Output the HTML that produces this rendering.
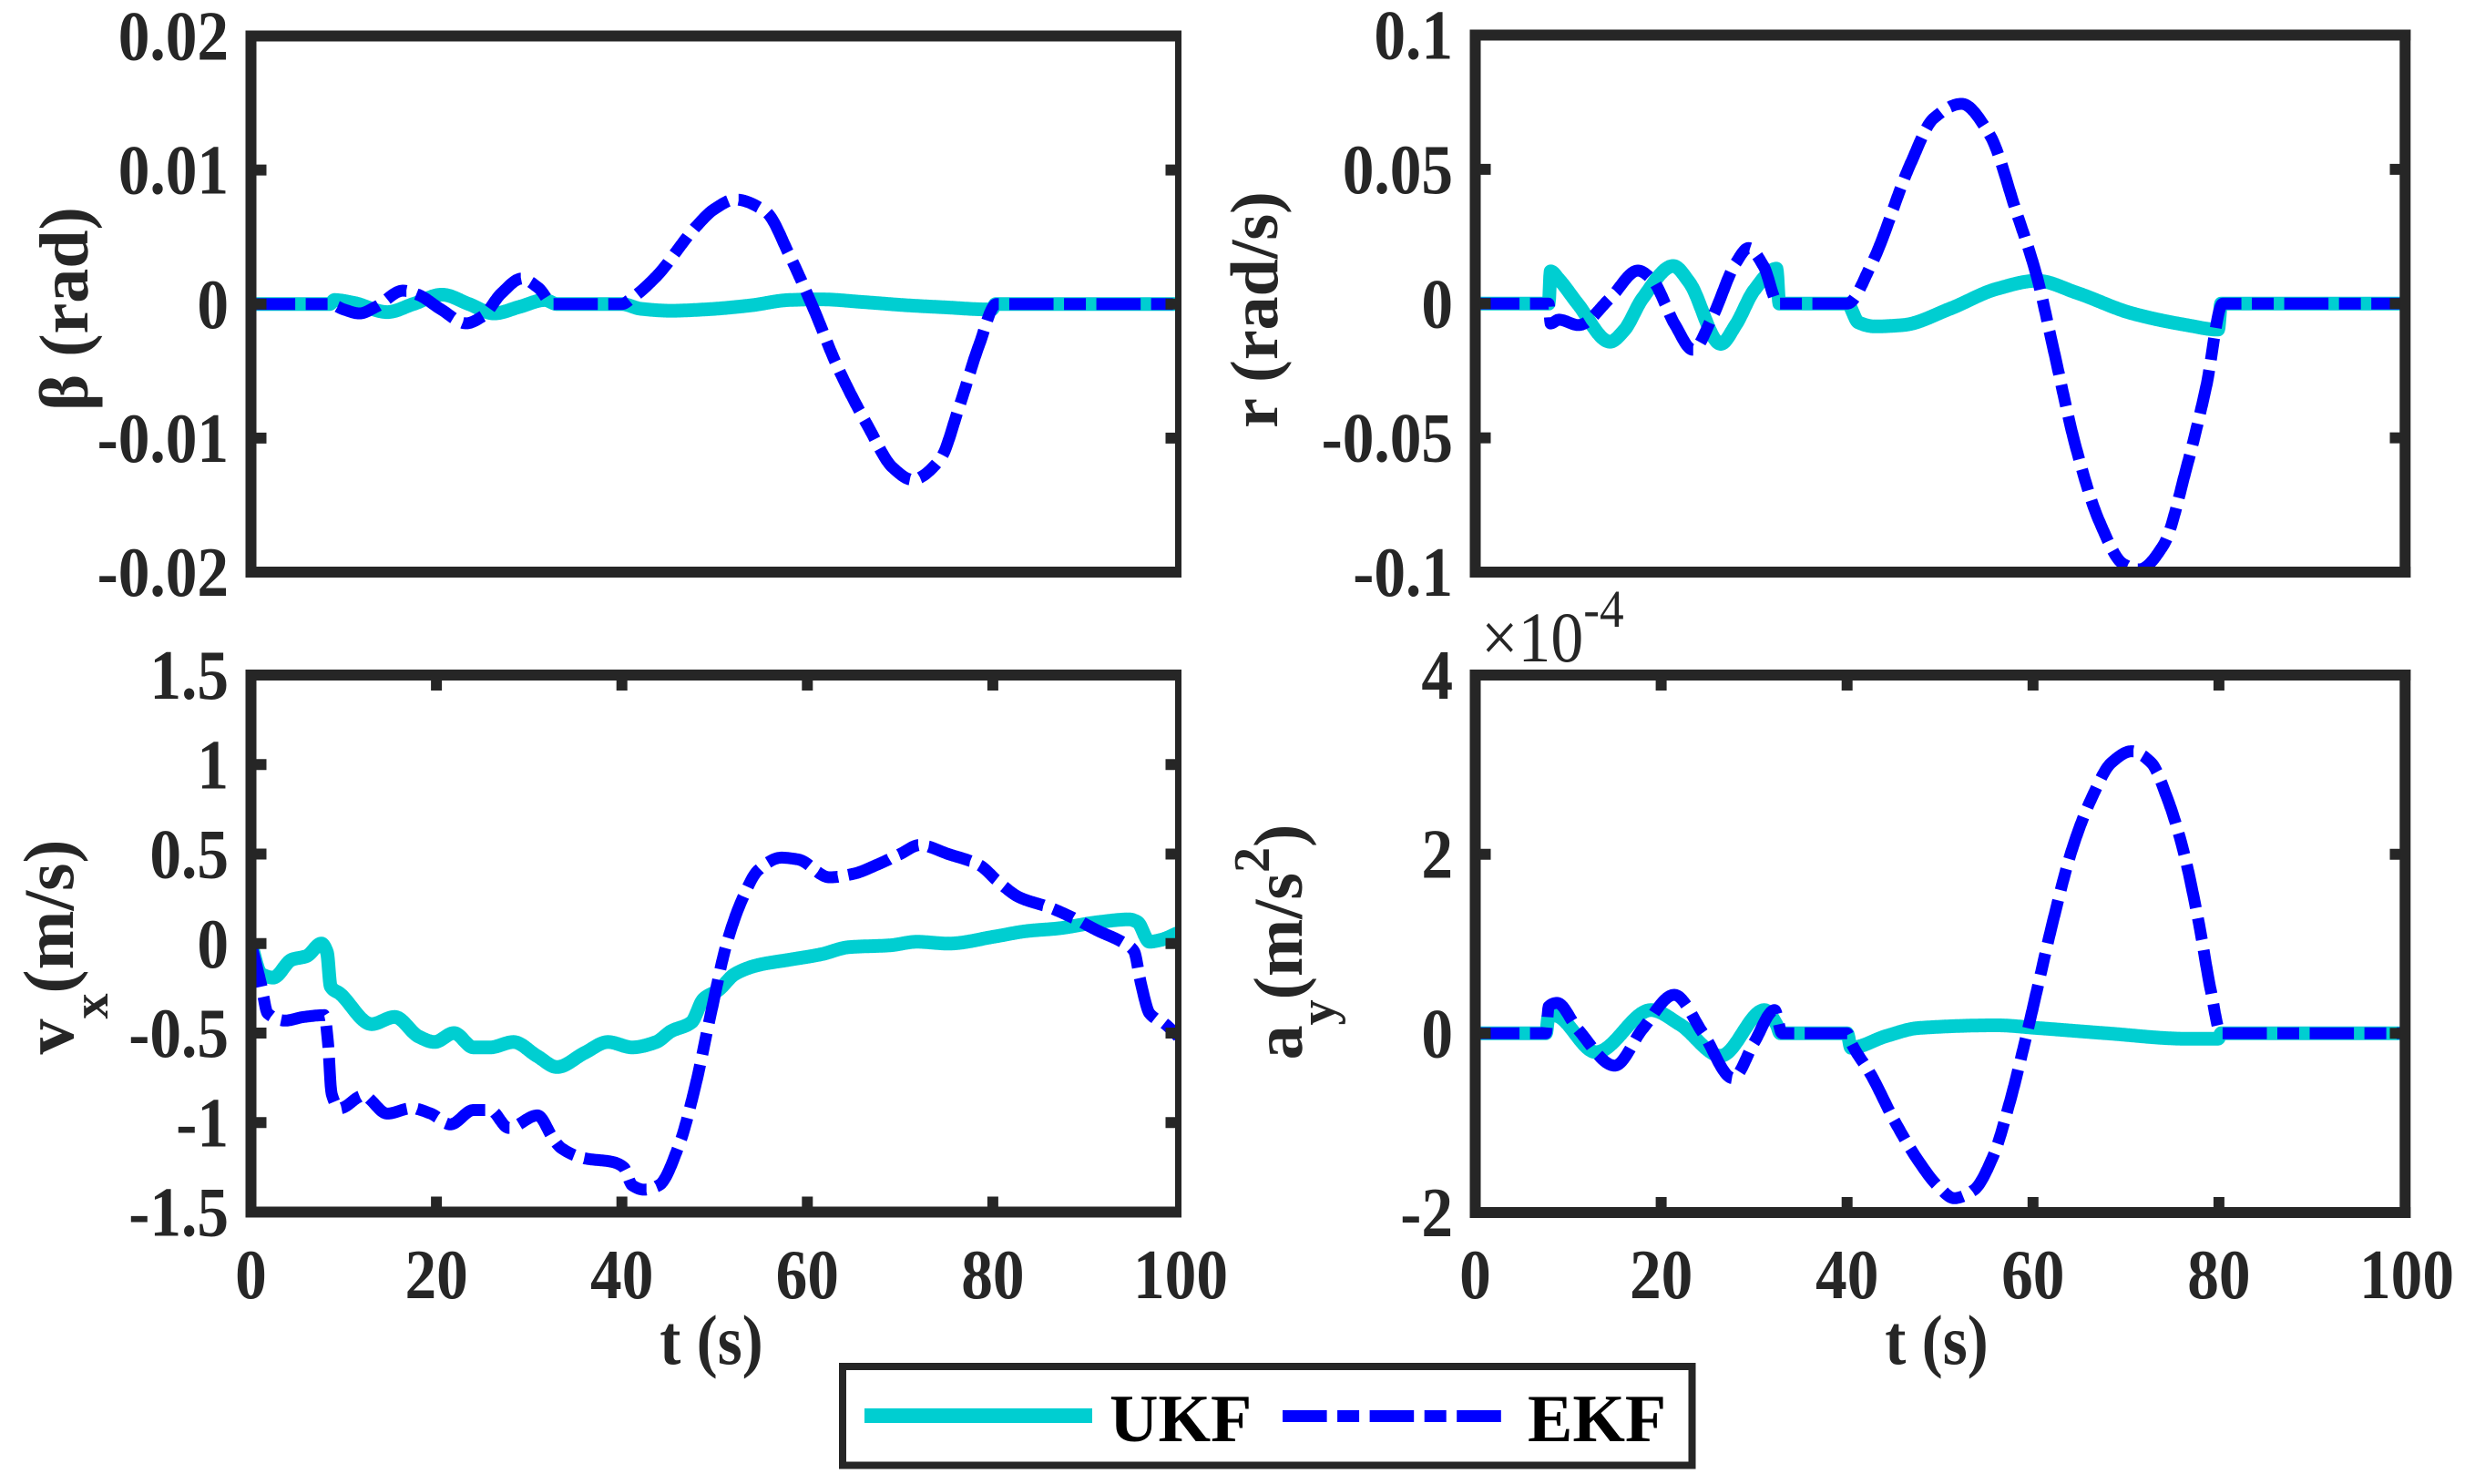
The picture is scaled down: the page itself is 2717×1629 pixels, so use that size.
<!DOCTYPE html>
<html>
<head>
<meta charset="utf-8">
<style>
html,body{margin:0;padding:0;background:#fff;}
svg{display:block;}
text{font-family:"Liberation Serif","Times New Roman",serif;}
</style>
</head>
<body>
<svg id="s" xmlns="http://www.w3.org/2000/svg" width="2717" height="1629" viewBox="0 0 2717 1629" font-family="Liberation Serif, Times New Roman, serif">
<rect width="2717" height="1629" fill="#fff"/>
<defs>
<clipPath id="c1"><rect x="275.5" y="39.5" width="1018" height="588.5"/></clipPath>
<clipPath id="c2"><rect x="1619.5" y="38.5" width="1020.5" height="589.5"/></clipPath>
<clipPath id="c3"><rect x="275.5" y="741" width="1018" height="589.5"/></clipPath>
<clipPath id="c4"><rect x="1619.5" y="741" width="1020.5" height="590"/></clipPath>
</defs>

<g id="curves"></g>

<g stroke="#262626" fill="none" stroke-linecap="butt">
<!-- P1 -->
<line x1="269.5" y1="39.5" x2="1297" y2="39.5" stroke-width="12"/>
<line x1="269.5" y1="628" x2="1297" y2="628" stroke-width="12"/>
<line x1="275.5" y1="33.5" x2="275.5" y2="634" stroke-width="12"/>
<line x1="1293.5" y1="33.5" x2="1293.5" y2="634" stroke-width="7"/>
<!-- P2 -->
<line x1="1613.5" y1="38.5" x2="2646.3" y2="38.5" stroke-width="12"/>
<line x1="1613.5" y1="628" x2="2646.3" y2="628" stroke-width="12"/>
<line x1="1619.5" y1="32.5" x2="1619.5" y2="634" stroke-width="12"/>
<line x1="2640.3" y1="32.5" x2="2640.3" y2="634" stroke-width="12"/>
<!-- P3 -->
<line x1="269.5" y1="741" x2="1297" y2="741" stroke-width="12"/>
<line x1="269.5" y1="1330.5" x2="1297" y2="1330.5" stroke-width="12"/>
<line x1="275.5" y1="735" x2="275.5" y2="1336.5" stroke-width="12"/>
<line x1="1293.5" y1="735" x2="1293.5" y2="1336.5" stroke-width="7"/>
<!-- P4 -->
<line x1="1613.5" y1="741" x2="2646.3" y2="741" stroke-width="12"/>
<line x1="1613.5" y1="1331" x2="2646.3" y2="1331" stroke-width="12"/>
<line x1="1619.5" y1="735" x2="1619.5" y2="1337" stroke-width="12"/>
<line x1="2640.3" y1="735" x2="2640.3" y2="1337" stroke-width="12"/>

<!-- ticks -->
<g stroke-width="12">
<line x1="275.5" y1="186.6" x2="292.5" y2="186.6"/><line x1="1293.5" y1="186.6" x2="1279.5" y2="186.6"/>
<line x1="275.5" y1="333.75" x2="292.5" y2="333.75"/><line x1="1293.5" y1="333.75" x2="1279.5" y2="333.75"/>
<line x1="275.5" y1="480.9" x2="292.5" y2="480.9"/><line x1="1293.5" y1="480.9" x2="1279.5" y2="480.9"/>

<line x1="1619.5" y1="185.9" x2="1636.5" y2="185.9"/><line x1="2640.3" y1="185.9" x2="2623.5" y2="185.9"/>
<line x1="1619.5" y1="333.25" x2="1636.5" y2="333.25"/><line x1="2640.3" y1="333.25" x2="2623.5" y2="333.25"/>
<line x1="1619.5" y1="480.6" x2="1636.5" y2="480.6"/><line x1="2640.3" y1="480.6" x2="2623.5" y2="480.6"/>

<line x1="275.5" y1="839.25" x2="292.5" y2="839.25"/><line x1="1293.5" y1="839.25" x2="1279.5" y2="839.25"/>
<line x1="275.5" y1="937.5" x2="292.5" y2="937.5"/><line x1="1293.5" y1="937.5" x2="1279.5" y2="937.5"/>
<line x1="275.5" y1="1035.75" x2="292.5" y2="1035.75"/><line x1="1293.5" y1="1035.75" x2="1279.5" y2="1035.75"/>
<line x1="275.5" y1="1134" x2="292.5" y2="1134"/><line x1="1293.5" y1="1134" x2="1279.5" y2="1134"/>
<line x1="275.5" y1="1232.25" x2="292.5" y2="1232.25"/><line x1="1293.5" y1="1232.25" x2="1279.5" y2="1232.25"/>

<line x1="479.1" y1="1330.5" x2="479.1" y2="1313.5"/><line x1="479.1" y1="741" x2="479.1" y2="758"/>
<line x1="682.7" y1="1330.5" x2="682.7" y2="1313.5"/><line x1="682.7" y1="741" x2="682.7" y2="758"/>
<line x1="886.3" y1="1330.5" x2="886.3" y2="1313.5"/><line x1="886.3" y1="741" x2="886.3" y2="758"/>
<line x1="1089.9" y1="1330.5" x2="1089.9" y2="1313.5"/><line x1="1089.9" y1="741" x2="1089.9" y2="758"/>

<line x1="1619.5" y1="937.7" x2="1636.5" y2="937.7"/><line x1="2640.3" y1="937.7" x2="2623.5" y2="937.7"/>
<line x1="1619.5" y1="1134.3" x2="1636.5" y2="1134.3"/><line x1="2640.3" y1="1134.3" x2="2623.5" y2="1134.3"/>

<line x1="1823.6" y1="1331" x2="1823.6" y2="1314"/><line x1="1823.6" y1="741" x2="1823.6" y2="758"/>
<line x1="2027.7" y1="1331" x2="2027.7" y2="1314"/><line x1="2027.7" y1="741" x2="2027.7" y2="758"/>
<line x1="2231.8" y1="1331" x2="2231.8" y2="1314"/><line x1="2231.8" y1="741" x2="2231.8" y2="758"/>
<line x1="2435.9" y1="1331" x2="2435.9" y2="1314"/><line x1="2435.9" y1="741" x2="2435.9" y2="758"/>
</g>
</g>

<!-- y tick labels -->
<g fill="#262626" font-size="77" font-weight="bold" text-anchor="end">
<text transform="translate(251,65.5) scale(0.9,1)">0.02</text>
<text transform="translate(251,212.6) scale(0.9,1)">0.01</text>
<text transform="translate(251,359.8) scale(0.9,1)">0</text>
<text transform="translate(251,506.9) scale(0.9,1)">-0.01</text>
<text transform="translate(251,654) scale(0.9,1)">-0.02</text>

<text transform="translate(1595,64.5) scale(0.9,1)">0.1</text>
<text transform="translate(1595,211.9) scale(0.9,1)">0.05</text>
<text transform="translate(1595,359.3) scale(0.9,1)">0</text>
<text transform="translate(1595,506.6) scale(0.9,1)">-0.05</text>
<text transform="translate(1595,654) scale(0.9,1)">-0.1</text>

<text transform="translate(251,767) scale(0.9,1)">1.5</text>
<text transform="translate(251,865.3) scale(0.9,1)">1</text>
<text transform="translate(251,963.5) scale(0.9,1)">0.5</text>
<text transform="translate(251,1061.8) scale(0.9,1)">0</text>
<text transform="translate(251,1160) scale(0.9,1)">-0.5</text>
<text transform="translate(251,1258.3) scale(0.9,1)">-1</text>
<text transform="translate(251,1356.5) scale(0.9,1)">-1.5</text>

<text transform="translate(1595,767) scale(0.9,1)">4</text>
<text transform="translate(1595,963.7) scale(0.9,1)">2</text>
<text transform="translate(1595,1160.3) scale(0.9,1)">0</text>
<text transform="translate(1595,1357) scale(0.9,1)">-2</text>
</g>
<!-- x tick labels -->
<g fill="#262626" font-size="77" font-weight="bold" text-anchor="middle">
<text transform="translate(275.5,1425) scale(0.9,1)">0</text>
<text transform="translate(479.1,1425) scale(0.9,1)">20</text>
<text transform="translate(682.7,1425) scale(0.9,1)">40</text>
<text transform="translate(886.3,1425) scale(0.9,1)">60</text>
<text transform="translate(1089.9,1425) scale(0.9,1)">80</text>
<text transform="translate(1296,1425) scale(0.9,1)">100</text>

<text transform="translate(1619.5,1425) scale(0.9,1)">0</text>
<text transform="translate(1823.6,1425) scale(0.9,1)">20</text>
<text transform="translate(2027.7,1425) scale(0.9,1)">40</text>
<text transform="translate(2231.8,1425) scale(0.9,1)">60</text>
<text transform="translate(2435.9,1425) scale(0.9,1)">80</text>
<text transform="translate(2642,1425) scale(0.9,1)">100</text>
</g>

<!-- axis labels -->
<g fill="#262626" font-weight="bold" text-anchor="middle">
<text transform="translate(781,1497) scale(0.9,1)" font-size="77">t (s)</text>
<text transform="translate(2126,1497) scale(0.9,1)" font-size="77">t (s)</text>
<text transform="translate(96,339) rotate(-90)" font-size="76">β (rad)</text>
<text transform="translate(1402,340) rotate(-90)" font-size="74">r (rad/s)</text>
<text transform="translate(80,1039.5) rotate(-90)" font-size="78">v<tspan dy="38" font-size="56">x</tspan><tspan dy="-38" font-size="78">(m/s)</tspan></text>
<text transform="translate(1429,1034) rotate(-90)" font-size="76">a<tspan dy="36" font-size="56">y</tspan><tspan dy="-36" font-size="76">(m/s</tspan><tspan dy="-36" font-size="56">2</tspan><tspan dy="36" font-size="76">)</tspan></text>
</g>
<text transform="translate(1626,726) scale(0.92,1)" font-size="78" fill="#262626">×10<tspan dy="-38" font-size="58">-4</tspan></text>

<!-- legend -->
<rect x="925" y="1500" width="932.5" height="108.5" fill="#fff" stroke="#262626" stroke-width="8"/>
<line x1="949" y1="1554" x2="1199" y2="1554" stroke="#00CED1" stroke-width="16"/>
<line x1="1408" y1="1554.5" x2="1650" y2="1554.5" stroke="#0000FF" stroke-width="13" stroke-dasharray="48.6 11.5 24 11.5"/>
<text x="1218" y="1582" font-size="74" font-weight="bold" fill="#000">UKF</text>
<text x="1677" y="1582" font-size="74" font-weight="bold" fill="#000">EKF</text>
</svg>

<script>
(function(){
function pchip(P){
  var n=P.length,x=[],y=[],h=[],d=[],m=[],i;
  for(i=0;i<n;i++){x.push(P[i][0]);y.push(P[i][1]);}
  for(i=0;i<n-1;i++){h[i]=x[i+1]-x[i];d[i]=(y[i+1]-y[i])/h[i];}
  m[0]=d[0];m[n-1]=d[n-2];
  for(i=1;i<n-1;i++){
    if(d[i-1]*d[i]<=0)m[i]=0;
    else{var w1=2*h[i]+h[i-1],w2=h[i]+2*h[i-1];m[i]=(w1+w2)/(w1/d[i-1]+w2/d[i]);}
  }
  return function(t){
    var k=0;while(k<n-2&&t>x[k+1])k++;
    var hh=h[k],s=(t-x[k])/hh,s2=s*s,s3=s2*s;
    return (2*s3-3*s2+1)*y[k]+(s3-2*s2+s)*hh*m[k]+(-2*s3+3*s2)*y[k+1]+(s3-s2)*hh*m[k+1];
  };
}
var plots={
  p1:{L:275.5,R:1293.5,T:39.5,B:628,vmin:-20,vmax:20,clip:'c1'},
  p2:{L:1619.5,R:2640.3,T:38.5,B:628,vmin:-100,vmax:100,clip:'c2'},
  p3:{L:275.5,R:1293.5,T:741,B:1330.5,vmin:-1.5,vmax:1.5,clip:'c3'},
  p4:{L:1619.5,R:2640.3,T:741,B:1331,vmin:-2,vmax:4,clip:'c4'}
};
var data={
 p1:{
  u:[[0,0],[8.5,0],[9,0.3],[11,0.1],[14.7,-0.6],[17.5,0],[20.6,0.7],[23.5,0],[26.2,-0.7],[29,-0.2],[31.7,0.3],[33,0],[40,0],[42,-0.35],[45.3,-0.5],[49,-0.4],[53.9,-0.1],[58,0.3],[61.5,0.35],[66,0.15],[70.9,-0.1],[75,-0.25],[79.4,-0.4],[79.9,-0.4],[80.3,0],[100,0]],
  e:[[0,0],[8.5,0],[10,-0.4],[11.7,-0.7],[13.5,-0.2],[16.4,1.0],[18,0.7],[20.5,-0.4],[23.2,-1.44],[25,-0.9],[27,0.8],[29.2,1.9],[31,1.2],[32.6,0],[33.5,0],[40,0],[41,0.4],[43.7,2.05],[47.9,5.7],[50,7.1],[52.2,7.8],[55.5,6.9],[58.1,3.6],[60.7,-0.4],[63.2,-4.6],[66.6,-9.2],[69.2,-12.2],[71.3,-13.1],[74.3,-11.6],[76.4,-7.6],[78.5,-3.1],[80.4,0],[100,0]]
 },
 p2:{
  u:[[0,0],[7.9,0],[8.1,12],[9,9],[11,0],[14.5,-14.2],[16,-10],[18,2],[21.3,14],[23,8],[26.4,-15],[28,-8],[30,5],[32.4,13],[32.7,0],[40,0],[41.2,-7],[43,-8.5],[46,-8],[51,-2],[56.1,5.5],[60.4,8.5],[64.7,4],[70.6,-3.6],[76.5,-8],[79.9,-9.7],[80.2,0],[100,0]],
  e:[[0,0],[7.9,0],[8.1,-7.4],[9,-6],[11.1,-8],[14.5,2],[17.5,12.3],[19,9],[21.5,-8],[23.4,-17.2],[25.5,-5],[28,15],[29.4,20.7],[31,14],[32.6,0],[33.5,0],[40,0],[42.6,14.6],[46.8,52],[49.3,69],[52.3,74.4],[55.3,63],[58.2,34],[60.4,10],[62.1,-15.7],[64.6,-53.6],[67.1,-81],[69.7,-97],[71.4,-99],[74,-90],[76.5,-61],[78.6,-31],[80.4,0],[100,0]]
 },
 p3:{
  u:[[0,0],[1.1,-0.17],[2.4,-0.19],[4.4,-0.09],[6,-0.07],[7.6,0],[8.2,-0.05],[8.6,-0.24],[9.6,-0.28],[13,-0.45],[15.5,-0.41],[18.1,-0.52],[19.8,-0.55],[21.9,-0.5],[24,-0.58],[25.8,-0.58],[28.3,-0.55],[30.9,-0.63],[33,-0.69],[36,-0.61],[38.5,-0.55],[41.1,-0.58],[43.7,-0.55],[45.3,-0.49],[47.5,-0.44],[48.8,-0.31],[50.4,-0.26],[52.2,-0.17],[54.7,-0.12],[58.1,-0.09],[61.5,-0.06],[64.5,-0.02],[68.9,-0.01],[71.8,0.01],[75.2,0],[80.3,0.04],[83.7,0.07],[87.1,0.085],[91.4,0.12],[94.7,0.135],[95.6,0.12],[96.9,0.01],[98.1,0.02],[100,0.06]],
  e:[[0,0],[1.1,-0.23],[1.8,-0.39],[3.7,-0.43],[5.7,-0.41],[7.9,-0.40],[8.3,-0.55],[8.7,-0.84],[9.6,-0.92],[12.1,-0.85],[14.7,-0.95],[17.3,-0.92],[19.4,-0.95],[21.5,-1.01],[24,-0.93],[25.8,-0.93],[27.8,-1.03],[30.9,-0.96],[32.6,-1.09],[33.4,-1.14],[36,-1.2],[39,-1.22],[40.2,-1.25],[41.1,-1.35],[42.4,-1.375],[44,-1.35],[46.2,-1.12],[47.9,-0.8],[49.6,-0.39],[51.3,0],[53,0.25],[54.7,0.41],[57.2,0.48],[59,0.47],[62.4,0.37],[65,0.39],[67.5,0.44],[70,0.5],[72.1,0.55],[75.2,0.5],[78.5,0.44],[80.7,0.34],[82.8,0.26],[86.2,0.2],[88.8,0.14],[91.4,0.07],[93.9,0.01],[95.2,-0.04],[96,-0.23],[96.9,-0.39],[98.6,-0.45],[100,-0.52]]
 },
 p4:{
  u:[[0,0],[7.6,0],[7.9,0.2],[8.5,0.2],[13,-0.21],[18.9,0.26],[22,0.1],[26.4,-0.25],[31.1,0.26],[32.4,0.1],[32.8,0],[40,0],[40.4,-0.16],[44.2,-0.03],[47.7,0.06],[56.1,0.09],[60.4,0.06],[68,0],[76.5,-0.06],[79.9,-0.06],[80.2,0],[100,0]],
  e:[[0,0],[7.6,0],[7.9,0.3],[8.8,0.34],[11,0.05],[15,-0.36],[18,0.05],[21.4,0.43],[24.5,0],[27.7,-0.5],[30,-0.1],[32.2,0.26],[33,0],[40,0],[40.4,-0.1],[42.6,-0.47],[45.1,-0.98],[47.7,-1.43],[49.8,-1.71],[51.5,-1.84],[53.6,-1.75],[55.7,-1.37],[57.4,-0.8],[59.1,-0.1],[60.4,0.48],[62.1,1.24],[64.2,2.06],[66.3,2.63],[68.4,3.02],[70.6,3.15],[72.7,3.02],[74.4,2.63],[76.1,2.06],[77.8,1.24],[79.1,0.48],[80.2,0],[100,0]]
 }
};
var NS="http://www.w3.org/2000/svg";
var g=document.getElementById('curves');
function build(p,P){
  var f=pchip(P),d='',first=true;
  var ts=[];
  for(var t=P[0][0];t<=P[P.length-1][0]+1e-9;t+=0.05)ts.push(t);
  for(var i=0;i<P.length;i++)ts.push(P[i][0]);
  ts.sort(function(a,b){return a-b;});
  var last=-1;
  for(var j=0;j<ts.length;j++){
    var tt=ts[j];if(tt-last<1e-6)continue;last=tt;
    var v=f(tt);
    var X=p.L+tt/100*(p.R-p.L);
    var Y=p.B-(v-p.vmin)/(p.vmax-p.vmin)*(p.B-p.T);
    d+=(first?'M':'L')+X.toFixed(1)+' '+Y.toFixed(1);first=false;
  }
  return d;
}
for(var k in plots){
  var p=plots[k];
  var grp=document.createElementNS(NS,'g');
  grp.setAttribute('clip-path','url(#'+p.clip+')');
  var pu=document.createElementNS(NS,'path');
  pu.setAttribute('d',build(p,data[k].u));
  pu.setAttribute('fill','none');pu.setAttribute('stroke','#00CED1');
  pu.setAttribute('stroke-width','15');pu.setAttribute('stroke-linejoin','round');
  grp.appendChild(pu);
  var pe=document.createElementNS(NS,'path');
  pe.setAttribute('d',build(p,data[k].e));
  pe.setAttribute('fill','none');pe.setAttribute('stroke','#0000FF');
  pe.setAttribute('stroke-width','13');pe.setAttribute('stroke-linejoin','round');
  pe.setAttribute('stroke-dasharray','48.6 11.5 24 11.5');
  grp.appendChild(pe);
  g.appendChild(grp);
}
})();
</script>
</body>
</html>
